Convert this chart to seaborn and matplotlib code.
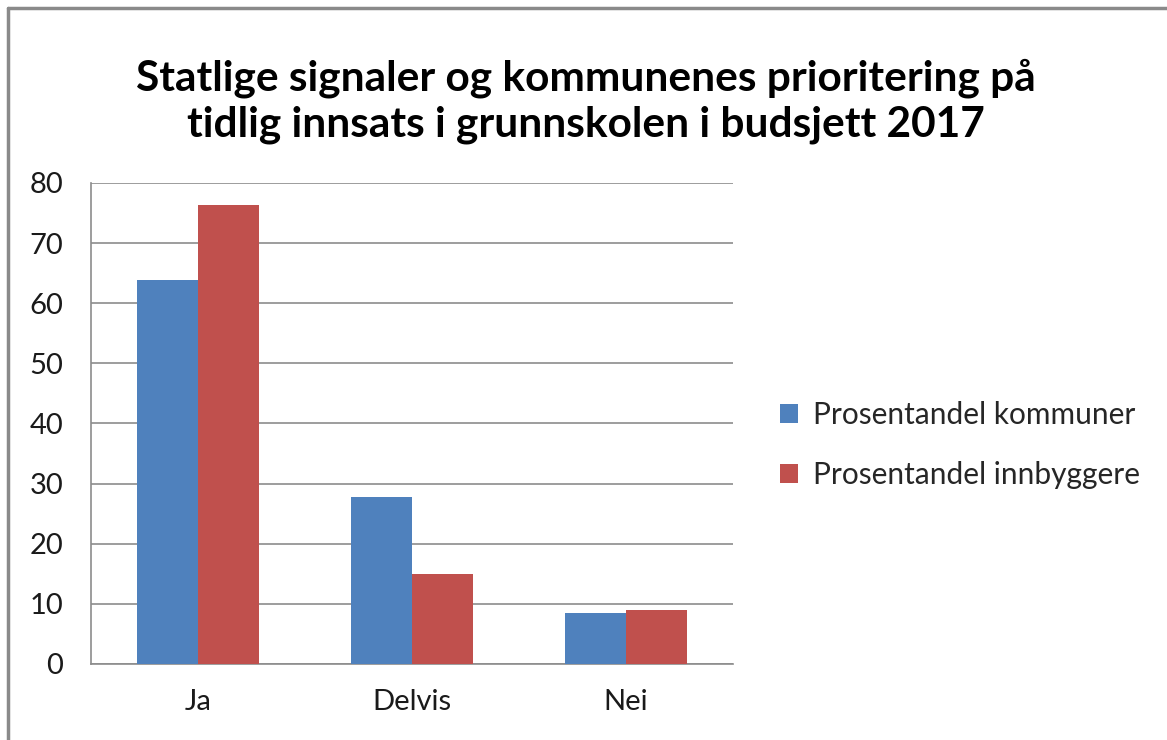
import matplotlib
matplotlib.use("Agg")
import matplotlib.pyplot as plt
import seaborn as sns
import pandas as pd
from matplotlib.lines import Line2D
from matplotlib.patches import Patch

categories = ["Ja", "Delvis", "Nei"]
series_names = ["Prosentandel kommuner", "Prosentandel innbyggere"]
kommuner = [63.9, 27.7, 8.4]
innbyggere = [76.3, 15.0, 8.9]
colors = ["#4F81BD", "#C0504D"]
title = "Statlige signaler og kommunenes prioritering på\ntidlig innsats i grunnskolen i budsjett 2017"
yticks = [0, 10, 20, 30, 40, 50, 60, 70, 80]

df = pd.DataFrame({
    "kategori": categories * 2,
    "serie": [series_names[0]] * 3 + [series_names[1]] * 3,
    "verdi": kommuner + innbyggere,
})

sns.set_theme(style="white")
plt.rcParams["font.family"] = ["Lato", "DejaVu Sans"]

fig = plt.figure(figsize=(11.67, 7.40), dpi=100)
ax = fig.add_axes([91 / 1167, 1 - 664 / 740, (733 - 91) / 1167, (664 - 183) / 740])

sns.barplot(data=df, x="kategori", y="verdi", hue="serie", order=categories,
            hue_order=series_names, palette=colors, saturation=1, width=0.57,
            ax=ax, legend=False, edgecolor="none", zorder=3)

ax.set_ylim(0, 80)
ax.set_xlim(-0.5, 2.5)
ax.set_yticks(yticks)
ax.set_yticklabels([str(v) for v in yticks])
ax.yaxis.grid(True, color="#8c8c8c", linewidth=1.2, zorder=0)
ax.set_axisbelow(True)
ax.set_xlabel("")
ax.set_ylabel("")
for s in ["top", "right"]:
    ax.spines[s].set_visible(False)
for s in ["left", "bottom"]:
    ax.spines[s].set_color("#8c8c8c")
    ax.spines[s].set_linewidth(1.2)
ax.tick_params(axis="y", labelsize=21, pad=20, length=0, colors="#1a1a1a")
ax.tick_params(axis="x", labelsize=21, pad=18, length=0, colors="#1a1a1a")

fig.text(0.502, 1 - 101 / 740, title, ha="center", va="center", fontsize=30.5,
         fontweight="bold", linespacing=1.25, color="black")

handles = [Patch(facecolor=c, edgecolor="none") for c in colors]
fig.legend(handles, series_names, loc="center left",
           bbox_to_anchor=(753 / 1167, 1 - 445 / 740), frameon=False,
           fontsize=21.5, handlelength=0.6, handleheight=0.6, handletextpad=0.5,
           labelspacing=1.05)

border_col = "#8a8a8a"
fig.add_artist(Line2D([7.5 / 1167, 7.5 / 1167], [0, 1 - 7.5 / 740], transform=fig.transFigure,
                      color=border_col, linewidth=2.5))
fig.add_artist(Line2D([7.5 / 1167, 1], [1 - 7.5 / 740, 1 - 7.5 / 740], transform=fig.transFigure,
                      color=border_col, linewidth=2.5))

fig.savefig("out.png", dpi=100, facecolor="white")
